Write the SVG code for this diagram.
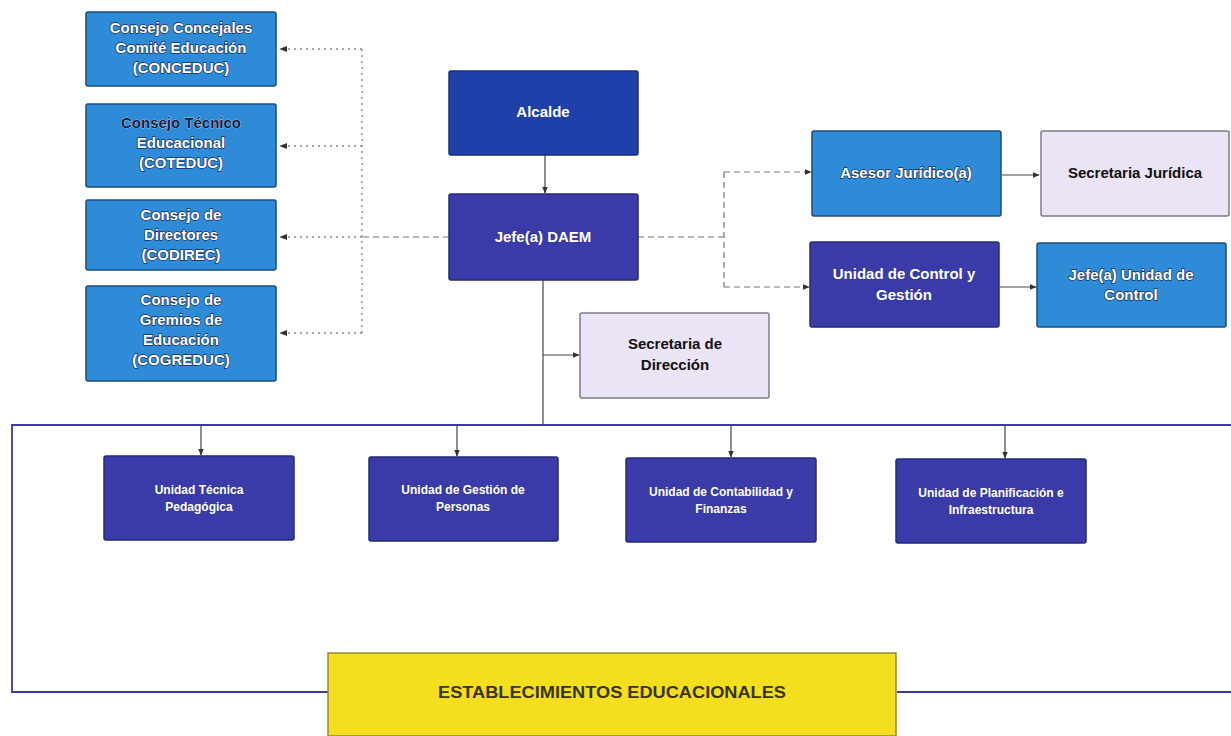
<svg xmlns="http://www.w3.org/2000/svg" width="1231" height="736" viewBox="0 0 1231 736">
<defs>
<style>
.lb{fill:#2d8bd7;stroke:#1c4c7e;stroke-width:1.5}
.db{fill:#1f3fab;stroke:#1a2f7a;stroke-width:1.5}
.pb{fill:#3a3aa8;stroke:#262a78;stroke-width:1.5}
.lv{fill:#ebe3f6;stroke:#7c7c8c;stroke-width:1.5}
.yl{fill:#f4df1e;stroke:#9a8a30;stroke-width:1.5}
text{font-family:"Liberation Sans",Arial,sans-serif;font-weight:bold;text-anchor:middle}
.wt{fill:#ffffff;font-size:15px}
.wo{fill:#ffffff;font-size:15px;stroke:#1b2c5c;stroke-width:1.3;paint-order:stroke}
.ws{fill:#ffffff;font-size:12px}
.bt{fill:#111111;font-size:15px}
.ln{fill:none;stroke:#444;stroke-width:1.2}
.dot{fill:none;stroke:#888;stroke-width:1.3;stroke-dasharray:2 4}
.dash{fill:none;stroke:#777;stroke-width:1.2;stroke-dasharray:6 4}
.frame{fill:none;stroke:#3a3aa0;stroke-width:1.8}
</style>
<marker id="ar" viewBox="0 0 10 10" refX="9" refY="5" markerWidth="6" markerHeight="6" orient="auto">
<path d="M0,1 L10,5 L0,9 z" fill="#333"/>
</marker>
</defs>
<rect width="1231" height="736" fill="#ffffff"/>

<g id="connectors">
<path class="frame" d="M1231,425 H12 V692 H328 M897,692 H1231"/>
<path class="dot" d="M362,49 V333"/>
<path class="dot" d="M362,49 H280" marker-end="url(#ar)"/>
<path class="dot" d="M362,146 H280" marker-end="url(#ar)"/>
<path class="dot" d="M362,237 H280" marker-end="url(#ar)"/>
<path class="dot" d="M362,333 H280" marker-end="url(#ar)"/>
<path class="dash" d="M449,237 H362"/>
<path class="ln" d="M545,155 V193" marker-end="url(#ar)"/>
<path class="ln" d="M543,280 V425"/>
<path class="ln" d="M543,355 H579" marker-end="url(#ar)"/>
<path class="dash" d="M638,237 H724 M724,172 V287"/>
<path class="dash" d="M724,172 H811" marker-end="url(#ar)"/>
<path class="dash" d="M724,287 H809" marker-end="url(#ar)"/>
<path class="ln" d="M1002,175 H1039" marker-end="url(#ar)"/>
<path class="ln" d="M1000,287 H1036" marker-end="url(#ar)"/>
<path class="ln" d="M201,425 V455" marker-end="url(#ar)"/>
<path class="ln" d="M457,425 V456" marker-end="url(#ar)"/>
<path class="ln" d="M731,425 V457" marker-end="url(#ar)"/>
<path class="ln" d="M1005,425 V458" marker-end="url(#ar)"/>
</g>

<g id="n-conceduc">
<rect class="lb" x="86" y="12" width="190" height="74" rx="2"/>
<text class="wo" x="181" y="33">Consejo Concejales</text>
<text class="wo" x="181" y="53">Comité Educación</text>
<text class="wo" x="181" y="73">(CONCEDUC)</text>
</g>
<g id="n-coteduc">
<rect class="lb" x="86" y="104" width="190" height="83" rx="2"/>
<text class="bt" x="181" y="128" style="fill:#14203f;stroke:#ffffff;stroke-width:0.5;paint-order:stroke">Consejo Técnico</text>
<text class="wo" x="181" y="148">Educacional</text>
<text class="wo" x="181" y="168">(COTEDUC)</text>
</g>
<g id="n-codirec">
<rect class="lb" x="86" y="200" width="190" height="70" rx="2"/>
<text class="wo" x="181" y="220">Consejo de</text>
<text class="wo" x="181" y="240">Directores</text>
<text class="wo" x="181" y="260">(CODIREC)</text>
</g>
<g id="n-cogreduc">
<rect class="lb" x="86" y="286" width="190" height="95" rx="2"/>
<text class="wo" x="181" y="305">Consejo de</text>
<text class="wo" x="181" y="325">Gremios de</text>
<text class="wo" x="181" y="345">Educación</text>
<text class="wo" x="181" y="365">(COGREDUC)</text>
</g>

<g id="n-alcalde">
<rect class="db" x="449" y="71" width="189" height="84" rx="2"/>
<text class="wt" x="543" y="117">Alcalde</text>
</g>
<g id="n-daem">
<rect class="pb" x="449" y="194" width="189" height="86" rx="2"/>
<text class="wt" x="543" y="242">Jefe(a) DAEM</text>
</g>
<g id="n-secdir">
<rect class="lv" x="580" y="313" width="189" height="85" rx="2"/>
<text class="bt" x="675" y="349">Secretaria de</text>
<text class="bt" x="675" y="370">Dirección</text>
</g>

<g id="n-asesor">
<rect class="lb" x="812" y="131" width="189" height="85" rx="2"/>
<text class="wo" x="906" y="178">Asesor Jurídico(a)</text>
</g>
<g id="n-secjur">
<rect class="lv" x="1041" y="131" width="188" height="85" rx="2"/>
<text class="bt" x="1135" y="178">Secretaria  Jurídica</text>
</g>
<g id="n-ucg">
<rect class="pb" x="810" y="242" width="189" height="85" rx="2"/>
<text class="wt" x="904" y="279">Unidad de Control y</text>
<text class="wt" x="904" y="300">Gestión</text>
</g>
<g id="n-jefeuc">
<rect class="lb" x="1037" y="243" width="189" height="84" rx="2"/>
<text class="wo" x="1131" y="280">Jefe(a) Unidad de</text>
<text class="wo" x="1131" y="300">Control</text>
</g>

<g id="n-utp">
<rect class="pb" x="104" y="456" width="190" height="84" rx="2"/>
<text class="ws" x="199" y="494">Unidad Técnica</text>
<text class="ws" x="199" y="511">Pedagógica</text>
</g>
<g id="n-ugp">
<rect class="pb" x="369" y="457" width="189" height="84" rx="2"/>
<text class="ws" x="463" y="494">Unidad de Gestión de</text>
<text class="ws" x="463" y="511">Personas</text>
</g>
<g id="n-ucf">
<rect class="pb" x="626" y="458" width="190" height="84" rx="2"/>
<text class="ws" x="721" y="496">Unidad de Contabilidad y</text>
<text class="ws" x="721" y="513">Finanzas</text>
</g>
<g id="n-upi">
<rect class="pb" x="896" y="459" width="190" height="84" rx="2"/>
<text class="ws" x="991" y="497">Unidad de Planificación e</text>
<text class="ws" x="991" y="514">Infraestructura</text>
</g>

<g id="n-estab">
<rect class="yl" x="328" y="653" width="568" height="83"/>
<text x="612" y="698" style="fill:#3a3410;font-size:16px" textLength="348" lengthAdjust="spacingAndGlyphs">ESTABLECIMIENTOS EDUCACIONALES</text>
</g>
</svg>
